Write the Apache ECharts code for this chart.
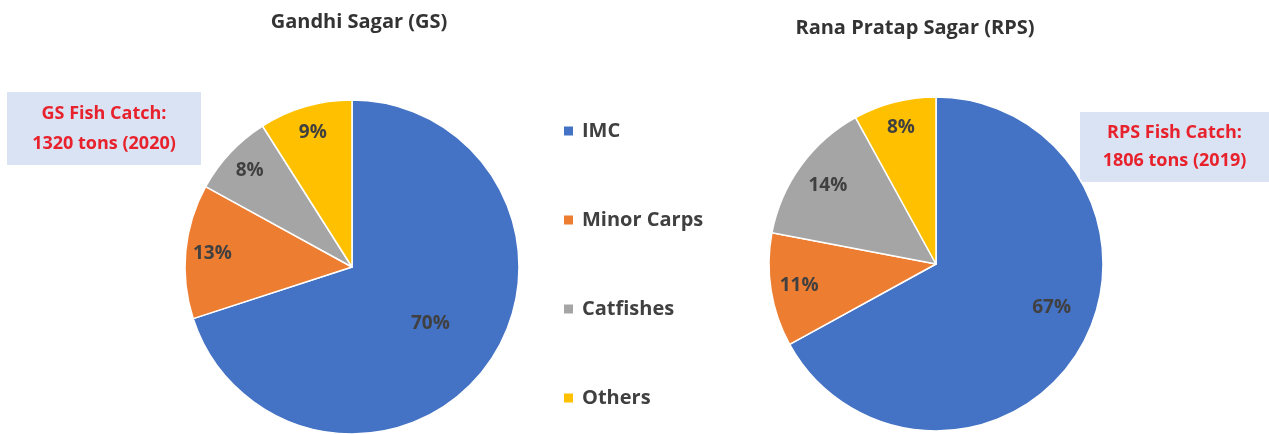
<!DOCTYPE html>
<html>
<head>
<meta charset="utf-8">
<script src="https://cdn.jsdelivr.net/npm/echarts@6/dist/echarts.min.js"></script>
<style>
html,body{margin:0;padding:0;background:#fff;}
#chart{width:1269px;height:434px;}
</style>
</head>
<body>
<div id="chart"></div>
<script>
// ---- data ----
const categories = ['IMC', 'Minor Carps', 'Catfishes', 'Others'];
const gsValues = [70, 13, 8, 9];
const rpsValues = [67, 11, 14, 8];
const gsTitle = 'Gandhi Sagar (GS)';
const rpsTitle = 'Rana Pratap Sagar (RPS)';
const gsNote = ['GS Fish Catch:', '1320 tons (2020)'];
const rpsNote = ['RPS Fish Catch:', '1806 tons (2019)'];

// ---- style ----
const colors = ['#4472C4', '#ED7D31', '#A5A5A5', '#FFC000'];
const FONT = '"Open Sans", Lato, sans-serif';
const gsCenter = [352, 267], rpsCenter = [936, 264], R = 167;
const gsLabelR = [0.58, 0.84, 0.84, 0.84];
const gsLabelTurn = [0, 0, 0, 0];
const rpsLabelR = [0.74, 0.83, 0.80, 0.845];
const rpsLabelTurn = [-10, 0, 0, 0];

function makeLayout(center, ratios, turns) {
  return function (p) {
    const lr = p.labelRect;
    const dx = lr.x + lr.width / 2 - center[0], dy = lr.y + lr.height / 2 - center[1];
    const th = Math.atan2(dx, -dy) + turns[p.dataIndex] * Math.PI / 180;
    const d = R * ratios[p.dataIndex];
    return { x: center[0] + Math.sin(th) * d, y: center[1] - Math.cos(th) * d };
  };
}

function pieSeries(name, values, center, ratios, turns) {
  return {
    name: name,
    type: 'pie',
    center: center,
    radius: R,
    startAngle: 90,
    clockwise: true,
    silent: true,
    animation: false,
    data: categories.map((c, i) => ({ name: c, value: values[i] })),
    itemStyle: { borderColor: '#fff', borderWidth: 1.5 },
    label: {
      show: true, position: 'inside', formatter: '{c}%',
      color: '#404040', fontFamily: FONT, fontWeight: 'bold', fontSize: 19
    },
    labelLine: { show: false },
    labelLayout: makeLayout(center, ratios, turns)
  };
}

function noteBox(lines, x, y, w, h, gap) {
  return {
    type: 'group', x: x, y: y,
    children: [
      { type: 'rect', shape: { x: 0, y: 0, width: w, height: h }, style: { fill: '#DAE3F3' } },
      { type: 'text', x: w / 2, y: h / 2 - gap / 2, style: { text: lines[0], fill: '#E8222D', font: 'bold 18px ' + FONT, textAlign: 'center', textVerticalAlign: 'middle' } },
      { type: 'text', x: w / 2, y: h / 2 + gap / 2, style: { text: lines[1], fill: '#E8222D', font: 'bold 18px ' + FONT, textAlign: 'center', textVerticalAlign: 'middle' } }
    ]
  };
}

const chart = echarts.init(document.getElementById('chart'), null, { renderer: 'canvas' });
chart.setOption({
  backgroundColor: '#fff',
  color: colors,
  animation: false,
  title: [
    { text: gsTitle, left: 359, top: 12, textAlign: 'center', padding: 0,
      textStyle: { fontFamily: FONT, fontWeight: 'bold', fontSize: 20, color: '#333' } },
    { text: rpsTitle, left: 915, top: 18, textAlign: 'center', padding: 0,
      textStyle: { fontFamily: FONT, fontWeight: 'bold', fontSize: 20, color: '#333' } }
  ],
  legend: {
    orient: 'vertical', left: 562, top: 120, padding: 0,
    icon: 'rect', itemWidth: 11, itemHeight: 11, itemGap: 67,
    data: categories,
    textStyle: { fontFamily: FONT, fontWeight: 'bold', fontSize: 20, color: '#404040', lineHeight: 22, padding: [0, 0, 0, 3] },
    selectedMode: false
  },
  graphic: [
    noteBox(gsNote, 7, 92, 194, 73, 30),
    noteBox(rpsNote, 1080, 112, 189, 70, 28)
  ],
  series: [
    pieSeries(gsTitle, gsValues, gsCenter, gsLabelR, gsLabelTurn),
    pieSeries(rpsTitle, rpsValues, rpsCenter, rpsLabelR, rpsLabelTurn)
  ]
});
</script>
</body>
</html>
